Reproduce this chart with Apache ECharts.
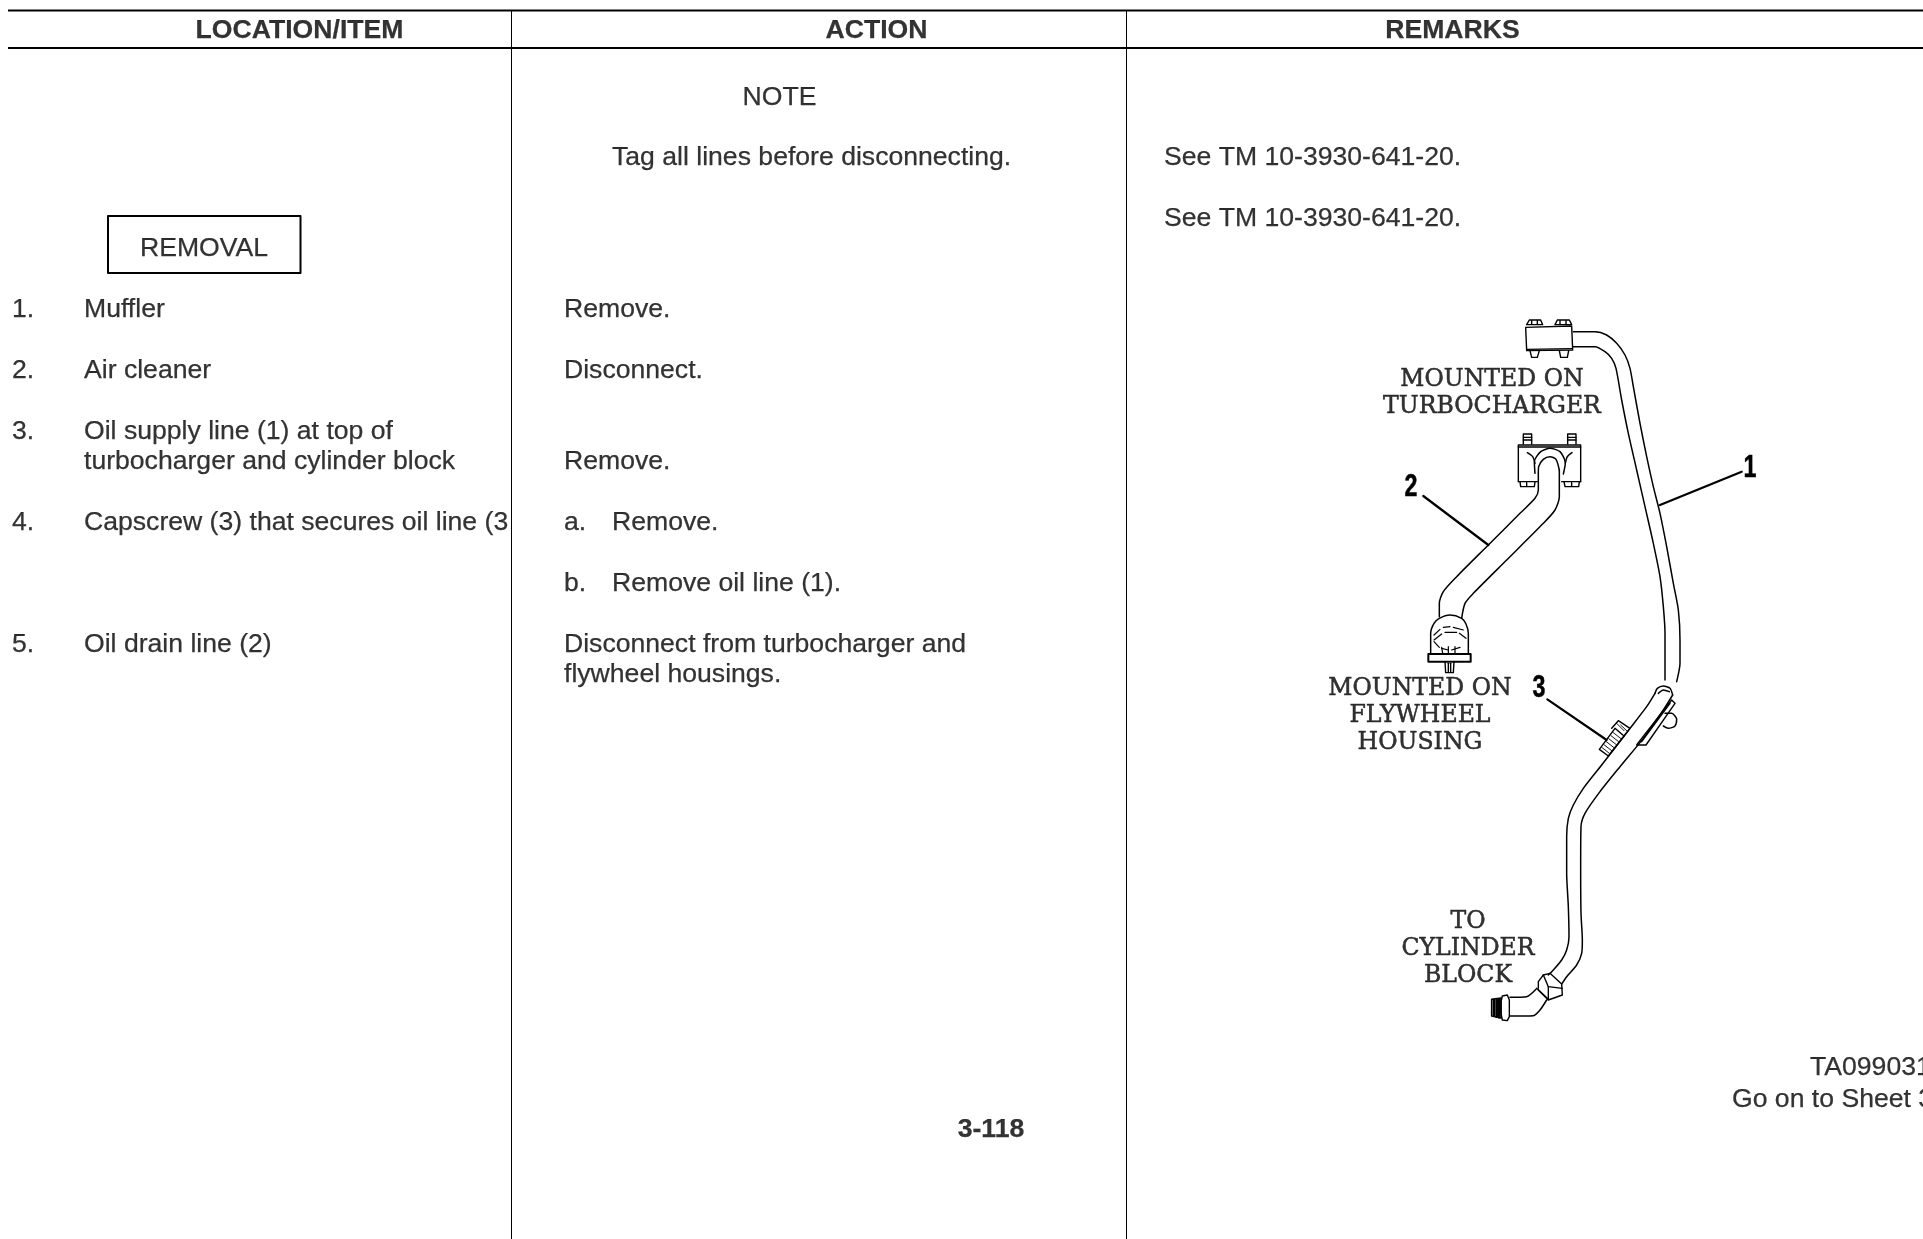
<!DOCTYPE html>
<html><head><meta charset="utf-8">
<style>html,body{margin:0;padding:0;background:#fff}#c{width:1923px;height:1239px}</style>
<script src="https://cdn.jsdelivr.net/npm/echarts@6/dist/echarts.min.js"></script>
</head><body><div id="c"></div>
<script>
const SANS = '"Liberation Sans"', SERIF = '"DejaVu Serif"';
const bodySize = 26.6;

// ---- table text ----
const headers = ['LOCATION/ITEM', 'ACTION', 'REMARKS'];
const stepNumbers = ['1.', '2.', '3.', '4.', '5.'];
const locationItems = ['Muffler', 'Air cleaner', 'Oil supply line (1) at top of', 'turbocharger and cylinder block', 'Capscrew (3) that secures oil line (3', 'Oil drain line (2)'];
const actionItems = ['Remove.', 'Disconnect.', 'Remove.', 'Disconnect from turbocharger and', 'flywheel housings.'];
const actionLettered = ['a.', 'b.'];
const actionLetteredText = ['Remove.', 'Remove oil line (1).'];
const remarks = ['See TM 10-3930-641-20.', 'See TM 10-3930-641-20.'];
const noteLines = ['NOTE', 'Tag all lines before disconnecting.'];
const boxedTitle = 'REMOVAL';
const pageNumber = '3-118';
const figureId = 'TA099031';
const sheetNote = 'Go on to Sheet 3';
const labelsTurbo = ['MOUNTED ON', 'TURBOCHARGER'];
const labelsFlywheel = ['MOUNTED ON', 'FLYWHEEL', 'HOUSING'];
const labelsBlock = ['TO', 'CYLINDER', 'BLOCK'];
const calloutNumbers = ['1', '2', '3'];

// ---- drawing outlines (upper part / lower part of the figure) ----
const pipe1Outer = [[820,95],[885,95],[920,105],[950,130],[975,165],[990,205],[1000,260],[1020,370],[1040,470],[1060,560],[1080,640],[1100,740],[1120,850],[1135,930],[1140,1020],[1140,1090],[1130,1145]];
const pipe1Inner = [[820,140],[885,140],[915,155],[935,175],[948,205],[965,300],[985,400],[1010,510],[1035,620],[1060,730],[1080,830],[1090,920],[1095,1000],[1095,1140]];
const clamp1Box = [[677,82],[815,78],[818,150],[680,152],[677,82]];
const clamp1Bolts = [[[680,74],[688,60],[722,60],[728,74],[680,74]],[[765,74],[772,60],[808,60],[815,74],[765,74]],[[690,152],[695,172],[712,172],[718,152]],[[778,152],[782,172],[802,172],[806,152]]];
const clamp1Details = [[[695,62],[695,72]],[[712,62],[712,72]],[[780,62],[780,72]],[[798,62],[798,72]],[[680,148],[815,146]]];
const clamp2Box = [[655,545],[655,435],[842,435],[842,545]];
const clamp2Edges = [[[655,441],[842,441]],[[655,545],[712,545]],[[785,545],[842,545]]];
const clamp2Bolts = [[[670,432],[670,402],[695,402],[695,432]],[[803,432],[803,402],[828,402],[828,432]],[[660,545],[662,560],[703,560],[705,545]],[[792,545],[795,560],[836,560],[838,545]]];
const clamp2Threads = [[[670,412],[695,412]],[[670,420],[695,420]],[[803,412],[828,412]],[[803,420],[828,420]],[[680,548],[680,558]],[[815,548],[815,558]]];
const pipe2Left = [[715,520],[715,570],[705,595],[660,640],[565,735],[470,830],[430,875],[418,910],[418,950]];
const pipe2Right = [[778,510],[778,590],[765,630],[730,670],[620,780],[520,880],[495,910],[485,955]];
const pipe2ArchOuter = [[705,520],[703,485],[722,455],[750,445],[780,455],[796,488],[790,522]];
const pipe2ArchInner = [[715,520],[716,500],[730,478],[750,470],[768,478],[778,510]];
const pipe2Wings = [[[682,458],[698,470],[705,490]],[[816,458],[802,470],[796,490]]];
const fittingDome = [[392,1060],[392,1000],[402,970],[418,955],[450,945],[485,955],[498,972],[505,1000],[505,1060]];
const fittingBase = [[385,1062],[512,1062],[512,1085],[385,1085],[385,1062]];
const fittingStud = [[[435,1085],[437,1118],[460,1118],[462,1085]],[[445,1090],[445,1115]],[[452,1090],[452,1115]]];
const fittingDash = [[[402,1005],[420,988]],[[430,982],[450,980]],[[460,982],[490,990]],[[402,1020],[425,1002]],[[435,997],[470,997]],[[478,1000],[498,1015]],[[402,1025],[418,1042]],[[425,1045],[445,1050]],[[455,1050],[480,1042]],[[425,1042],[428,1060]],[[445,1040],[445,1060]],[[465,1040],[465,1060]]];
const leader1 = [[1325,515],[1080,615]];
const leader2 = [[370,588],[565,735]];
const leader3 = [[742,118],[920,240]];
const lowerCollar = [[1065,100],[1072,85],[1090,78],[1110,85],[1118,105]];
const lowerCollarInner = [[1075,100],[1090,90],[1108,95]];
const lowerLeft = [[1065,100],[1040,140],[990,205],[905,315],[850,385],[820,435],[805,475],[800,530],[800,640],[805,740],[807,830],[800,870],[785,900],[760,930],[745,945]];
const lowerRight = [[1118,105],[1090,150],[1030,235],[960,320],[900,395],[855,460],[843,500],[842,620],[843,760],[847,840],[845,880],[830,915],[800,950],[785,972]];
const bracket = [[1010,255],[1038,255],[1125,130],[1115,120],[1015,248],[1010,255]];
const bracketInner = [[1025,245],[1110,130]];
const bracketNut = [[1095,160],[1115,160],[1130,178],[1125,198],[1105,205],[1090,198]];
const boltThread = [[898,268],[925,288],[972,228],[945,205],[898,268]];
const boltHead = [[935,205],[955,182],[990,205],[972,228]];
const boltLines = [[[905,262],[928,280]],[[912,254],[935,272]],[[919,245],[942,263]],[[926,236],[949,254]],[[933,227],[956,245]],[[940,218],[963,236]],[[950,190],[972,212]],[[962,195],[980,212]]];
const nutOutline = [[715,985],[715,965],[730,945],[750,940],[785,972],[787,1005],[745,1020],[715,990]];
const nutLines = [[[730,945],[745,980],[787,985]],[[745,980],[745,1018]],[[710,985],[745,1018]]];
const elbowTop = [[708,988],[680,1010],[630,1012]];
const elbowBottom = [[740,1020],[720,1050],[700,1067],[630,1068]];
const endNut = [[607,1008],[622,1005],[628,1020],[628,1070],[622,1082],[607,1080],[603,1060],[603,1025],[607,1008]];
const endPlug = [[575,1018],[603,1014],[603,1074],[575,1068],[575,1018]];
const endPlugShade = [[[582,1020],[582,1066]],[[590,1020],[590,1070]],[[597,1018],[597,1072]]];

// crop units (3 per pixel) to sheet axis values
const upper = p => p.map(([x, y]) => [1300 + x / 3, 300 + y / 3]);
const lower = p => p.map(([x, y]) => [1300 + x / 3, 660 + y / 3]);

const series = [];
const stroke = (data, w, smooth, cap) => series.push({
  type: 'line', data, showSymbol: false, silent: true, smooth: smooth ? 0.25 : false,
  lineStyle: { color: '#000', width: w, cap: cap || 'round', join: 'round' }, clip: false
});
// table rules
stroke([[8, 10.5], [1923, 10.5]], 2, false, 'butt');
stroke([[8, 48], [1923, 48]], 2, false, 'butt');
stroke([[511.5, 11], [511.5, 1239]], 1, false, 'butt');
stroke([[1126.5, 11], [1126.5, 1239]], 1, false, 'butt');
stroke([[108, 216], [300.5, 216], [300.5, 273], [108, 273], [108, 216]], 2);

[pipe1Outer, pipe1Inner, pipe2Left, pipe2Right, pipe2ArchOuter, pipe2ArchInner, fittingDome, ...pipe2Wings].forEach(p => stroke(upper(p), 1.5, true));
[clamp1Box, clamp2Box, ...clamp2Edges, ...clamp1Bolts, ...clamp2Bolts, ...clamp2Threads, ...clamp1Details, ...fittingStud].forEach(p => stroke(upper(p), 1.4));
stroke(upper(fittingBase), 2);
fittingDash.forEach(p => stroke(upper(p), 1.2));
[lowerLeft, lowerRight, lowerCollar, lowerCollarInner, elbowTop, elbowBottom, bracketNut].forEach(p => stroke(lower(p), 1.5, true));
[bracket, bracketInner, boltThread, boltHead, nutOutline, endNut, ...nutLines].forEach(p => stroke(lower(p), 1.4));
boltLines.forEach(p => stroke(lower(p), 0.9));
stroke(lower(endPlug), 1.6);
endPlugShade.forEach(p => stroke(lower(p), 2.6));
stroke(upper(leader1), 2.2);
stroke(upper(leader2), 2.2);
stroke(lower(leader3), 2.2);

// text is carried by a symbol-less scatter series
const textItems = [];
const put = (text, x, y, opt) => textItems.push({
  value: [x, y],
  label: Object.assign({ show: true, position: 'inside', align: 'left', verticalAlign: 'middle', formatter: () => text, color: '#000', fontFamily: SANS, fontSize: bodySize, fontWeight: 'normal', textBorderColor: '#000', textBorderWidth: 0.25 }, opt || {})
});
const bold = { align: 'center', fontWeight: 'bold' };
const mid = { align: 'center' };
[299.5, 876.5, 1452.5].forEach((x, i) => put(headers[i], x, 31, bold));
put(noteLines[0], 779.5, 97.2, mid);
put(noteLines[1], 612, 157.2);
remarks.forEach((t, i) => put(t, 1164, [157.2, 218.2][i]));
put(boxedTitle, 204, 249, mid);
const numberRows = [309.2, 370.2, 431.2, 522.2, 644.2];
stepNumbers.forEach((t, i) => put(t, 12, numberRows[i]));
const locationRows = [309.2, 370.2, 431.2, 461.2, 522.2, 644.2];
locationItems.forEach((t, i) => put(t, 84, locationRows[i]));
const actionRows = [309.2, 370.2, 461.2, 644.2, 674.2];
actionItems.forEach((t, i) => put(t, 564, actionRows[i]));
const letteredRows = [522.2, 583.2];
actionLettered.forEach((t, i) => put(t, 564, letteredRows[i]));
actionLetteredText.forEach((t, i) => put(t, 612, letteredRows[i]));
put(pageNumber, 991, 1129.6, bold);
put(figureId, 1810, 1068);
put(sheetNote, 1732, 1100);
const serif = { align: 'center', fontFamily: SERIF, fontSize: 23.6, textBorderWidth: 0.5 };
const turboRows = [380, 407], flyRows = [689, 716, 743], blockRows = [922, 949, 976];
labelsTurbo.forEach((t, i) => put(t, 1492, turboRows[i], serif));
labelsFlywheel.forEach((t, i) => put(t, 1420, flyRows[i], serif));
labelsBlock.forEach((t, i) => put(t, 1468, blockRows[i], serif));
series.push({ type: 'scatter', symbolSize: 0, silent: true, data: textItems, clip: false });

const chart = echarts.init(document.getElementById('c'), null, { renderer: 'canvas' });
const option = {
  animation: false, backgroundColor: '#fff', tooltip: { show: false }, legend: { show: false },
  grid: { left: 0, right: 0, top: 0, bottom: 0 },
  xAxis: { type: 'value', min: 0, max: 1923, show: false },
  yAxis: { type: 'value', min: 0, max: 1239, inverse: true, show: false },
  series
};
chart.setOption(option);
// callout numbers are tall and narrow, so they are squeezed horizontally
const calloutAt = [[1750, 468], [1411, 487], [1539, 688]];
chart.setOption({
  graphic: calloutNumbers.map((t, i) => {
    const [x, y] = chart.convertToPixel({ gridIndex: 0 }, calloutAt[i]);
    return { type: 'text', x, y, scaleX: 0.75, silent: true,
      style: { text: t, fill: '#000', font: 'bold 31px ' + SANS, align: 'center', verticalAlign: 'middle', stroke: '#000', lineWidth: 0.5 } };
  })
});
</script></body></html>
